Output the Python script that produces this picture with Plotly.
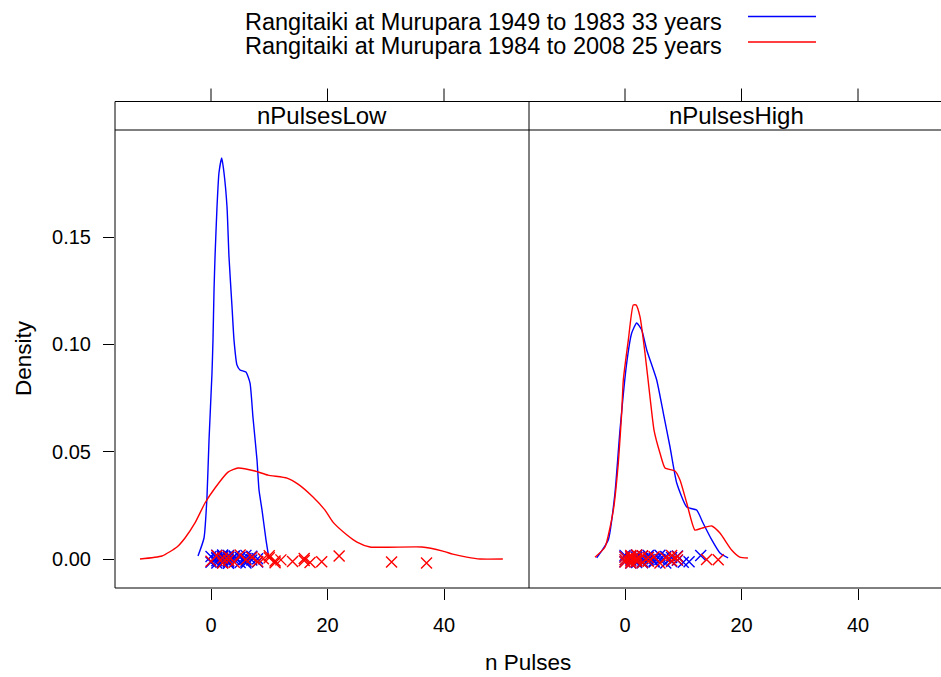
import plotly.graph_objects as go

W, H = 941, 677

# ---------------- data ----------------
panels = ["nPulsesLow", "nPulsesHigh"]
series_names = ["Rangitaiki at Murupara 1949 to 1983 33 years",
                "Rangitaiki at Murupara 1984 to 2008 25 years"]
series_colors = ["#0000FF", "#FF0000"]

# density curves (x = n pulses, y = density)
low_early_x = [-2.23, -1.2, -0.69, -0.34, 0.17, 0.34, 0.52, 0.69, 1.03, 1.37, 1.84, 2.23, 2.75, 3.09,
               3.61, 3.95, 4.46, 4.98, 6.0, 6.7, 7.2, 7.9, 8.24, 8.76, 9.44, 9.95]
low_early_y = [0.0014, 0.0098, 0.0289, 0.0555, 0.0867, 0.1020, 0.1253, 0.1407, 0.164, 0.180, 0.1869,
               0.180, 0.164, 0.1407, 0.1174, 0.1020, 0.0904, 0.0881, 0.0871, 0.082, 0.0662, 0.0461,
               0.0322, 0.0228, 0.0089, 0.0002]
low_late_x = [-12.19, -8.41, -5.84, -4.46, -2.75, -1.03, 0.69, 2.92, 4.64, 7.55, 9.79, 13.05, 14.94,
              17.51, 19.57, 20.94, 23.35, 25.06, 27.3, 36.2, 39.8, 41.5, 43.9, 46.2, 50.1]
low_late_y = [0.0, 0.0014, 0.0056, 0.0098, 0.0168, 0.0261, 0.0331, 0.0405, 0.0424, 0.0410, 0.0391,
              0.0377, 0.0349, 0.0289, 0.0228, 0.0172, 0.0112, 0.0079, 0.0056, 0.0056, 0.0037,
              0.0023, 0.0009, 0.0, 0.0]
high_early_x = [-4.86, -2.87, -1.72, -0.86, 0.29, 1.15, 2.0, 2.87, 3.73, 5.44, 6.58, 7.73, 8.88,
                10.6, 12.3, 13.4, 14.9, 16.3, 17.7]
high_early_y = [0.0005, 0.0089, 0.0308, 0.0601, 0.0913, 0.1053, 0.110, 0.1067, 0.0974, 0.0834,
                0.068, 0.0522, 0.0354, 0.0242, 0.0228, 0.0168, 0.0089, 0.0028, 0.0005]
high_late_x = [-5.15, -3.43, -2.0, -1.15, -0.57, -0.29, 0.57, 1.42, 1.89, 2.58, 3.43, 4.29, 4.98,
               6.0, 6.87, 8.58, 9.44, 10.6, 12.0, 13.2, 14.9, 16.3, 18.3, 19.7, 21.1]
high_late_y = [0.0008, 0.0056, 0.0228, 0.0447, 0.068, 0.0834, 0.102, 0.1184, 0.1184, 0.1128, 0.096,
               0.0755, 0.0601, 0.0494, 0.0424, 0.041, 0.0368, 0.0261, 0.0135, 0.0144, 0.0154,
               0.0121, 0.0042, 0.0009, 0.0005]

# raw observations (rug of crosses) with their small vertical jitter
low_early_pts = [0, 0, 1, 1, 1, 1, 1, 2, 2, 2, 2, 2, 2, 2, 3, 3, 3, 3, 3, 4, 4, 4, 5, 5, 6, 6, 6, 6,
                 7, 7, 7, 8, 8]
low_early_jit = [0.0012, -0.0015, 0.0004, -0.0008, 0.0018, -0.0019, 0.0007, 0.0015, -0.0011, 0.0002,
                 -0.0017, 0.0010, -0.0004, 0.0019, -0.0013, 0.0006, 0.0016, -0.0007, -0.0020, 0.0011,
                 -0.0002, 0.0014, -0.0016, 0.0008, 0.0017, -0.0010, 0.0003, -0.0018, 0.0013,
                 -0.0005, 0.0009, -0.0014, 0.0001]
low_late_pts = [0, 1, 2, 2, 3, 3, 4, 5, 6, 7, 8, 9, 10, 10, 11, 11, 12, 14, 16, 16, 17, 19, 22, 31, 37]
low_late_jit = [-0.0010, 0.0016, -0.0018, 0.0005, 0.0012, -0.0006, -0.0015, 0.0019, -0.0003, 0.0008,
                -0.0012, 0.0001, 0.0015, 0.0006, -0.0009, -0.0017, -0.0004, -0.0012, 0.0002,
                -0.0007, -0.0016, -0.0013, 0.0014, -0.0014, -0.0019]
high_early_pts = [0, 0, 0, 1, 1, 1, 1, 2, 2, 2, 2, 2, 3, 3, 3, 3, 4, 4, 4, 5, 5, 5, 6, 6, 7, 7, 8, 8,
                  9, 9, 10, 11, 13]
high_early_jit = [0.0009, -0.0013, 0.0017, -0.0004, 0.0011, -0.0019, 0.0003, 0.0015, -0.0008,
                  -0.0016, 0.0006, 0.0019, -0.0011, 0.0001, 0.0013, -0.0017, 0.0008, -0.0005,
                  0.0016, -0.0014, 0.0004, -0.0009, 0.0018, -0.0002, 0.0012, -0.0018, 0.0007,
                  -0.0012, 0.0014, -0.0006, -0.0015, -0.0013, 0.0016]
high_late_pts = [0, 0, 0, 1, 1, 1, 1, 1, 2, 2, 2, 2, 3, 3, 4, 4, 5, 6, 7, 8, 8, 9, 9, 14, 16]
high_late_jit = [-0.0014, 0.0010, -0.0003, 0.0017, -0.0009, 0.0004, -0.0018, 0.0013, -0.0006,
                 0.0019, -0.0012, 0.0002, 0.0015, -0.0016, 0.0007, -0.0010, 0.0011, -0.0019,
                 0.0005, 0.0016, -0.0008, 0.0012, -0.0004, -0.0002, -0.0003]

x_ticks = [0, 20, 40]
y_ticks = [0.00, 0.05, 0.10, 0.15]
y_tick_text = ["0.00", "0.05", "0.10", "0.15"]
x_title = "n Pulses"
y_title = "Density"

# ---------------- layout geometry (pixels) ----------------
px_per_unit = 5.825
x0_left = 211.0
panel_l, panel_mid, panel_r = 115, 529, 941
panel_top, panel_bot = 130, 588
strip_top = 101.5
xr_left = [(panel_l - x0_left) / px_per_unit, (panel_mid - x0_left) / px_per_unit]
xr_right = [xr_left[0], xr_left[0] + (panel_r - panel_mid) / px_per_unit]
y_range = [-0.0135, 0.1999]


def px(x):
    return x / W


def py(y):
    return 1 - y / H


FONT = "Liberation Sans, Arial, sans-serif"
fig = go.Figure()

curves = [
    (0, 0, low_early_x, low_early_y, low_early_pts, low_early_jit),
    (0, 1, low_late_x, low_late_y, low_late_pts, low_late_jit),
    (1, 0, high_early_x, high_early_y, high_early_pts, high_early_jit),
    (1, 1, high_late_x, high_late_y, high_late_pts, high_late_jit),
]
for p, s, cx, cy, pts, jit in curves:
    xa = "x" if p == 0 else "x2"
    ya = "y" if p == 0 else "y2"
    fig.add_trace(go.Scatter(x=cx, y=cy, mode="lines", xaxis=xa, yaxis=ya,
                             line=dict(color=series_colors[s], width=1.4, shape="spline",
                                       smoothing=0.5),
                             showlegend=False, hoverinfo="skip"))
    fig.add_trace(go.Scatter(x=pts, y=jit, mode="markers", xaxis=xa, yaxis=ya,
                             marker=dict(symbol="x-thin-open", size=11, color=series_colors[s],
                                         line=dict(color=series_colors[s], width=1.4)),
                             showlegend=False, hoverinfo="skip"))

axis_common = dict(showgrid=False, zeroline=False, showline=False, ticks="outside",
                   ticklen=11, tickwidth=1, tickcolor="black", ticklabelstandoff=8,
                   tickfont=dict(family=FONT, size=20, color="black"))

fig.update_layout(
    width=W, height=H, autosize=False,
    margin=dict(l=0, r=0, t=0, b=0),
    paper_bgcolor="white", plot_bgcolor="white",
    xaxis=dict(domain=[px(panel_l), px(panel_mid)], range=xr_left, anchor="y",
               tickvals=x_ticks, ticktext=[str(v) for v in x_ticks], **axis_common),
    xaxis2=dict(domain=[px(panel_mid), px(panel_r)], range=xr_right, anchor="y2",
                tickvals=x_ticks, ticktext=[str(v) for v in x_ticks], **axis_common),
    yaxis=dict(domain=[py(panel_bot), py(panel_top)], range=y_range, anchor="x",
               tickvals=y_ticks, ticktext=y_tick_text, **axis_common),
    yaxis2=dict(domain=[py(panel_bot), py(panel_top)], range=y_range, anchor="x2",
                showticklabels=False, ticks="", showgrid=False, zeroline=False),
)

shapes = []
line_k = dict(color="black", width=1)
# panel boxes (right edge of right panel falls outside the picture)
shapes.append(dict(type="line", xref="paper", yref="paper", x0=px(panel_l), x1=px(panel_r),
                   y0=py(panel_bot), y1=py(panel_bot), line=line_k))
shapes.append(dict(type="line", xref="paper", yref="paper", x0=px(panel_l), x1=px(panel_r),
                   y0=py(panel_top), y1=py(panel_top), line=line_k))
shapes.append(dict(type="line", xref="paper", yref="paper", x0=px(panel_l), x1=px(panel_r),
                   y0=py(strip_top), y1=py(strip_top), line=line_k))
shapes.append(dict(type="line", xref="paper", yref="paper", x0=px(panel_l), x1=px(panel_l),
                   y0=py(panel_bot), y1=py(strip_top), line=line_k))
shapes.append(dict(type="line", xref="paper", yref="paper", x0=px(panel_mid), x1=px(panel_mid),
                   y0=py(panel_bot), y1=py(strip_top), line=line_k))
# top ticks above the strips
for xa in ["x", "x2"]:
    for v in x_ticks:
        shapes.append(dict(type="line", xref=xa, yref="paper", x0=v, x1=v,
                           y0=py(strip_top), y1=py(strip_top - 13), line=line_k))
# legend keys
leg_y = [16.5, 42]
for i, c in enumerate(series_colors):
    shapes.append(dict(type="line", xref="paper", yref="paper", x0=px(748), x1=px(816),
                       y0=py(leg_y[i]), y1=py(leg_y[i]), line=dict(color=c, width=1.4)))
fig.update_layout(shapes=shapes)

ann = []
for i, name in enumerate(series_names):
    ann.append(dict(text=name, xref="paper", yref="paper", x=px(243), y=py([21.5, 46][i]),
                    xanchor="left", yanchor="middle", showarrow=False,
                    font=dict(family=FONT, size=23.5, color="black")))
for i, name in enumerate(panels):
    cx = (panel_l + panel_mid) / 2 if i == 0 else (panel_mid + panel_r + 2) / 2
    ann.append(dict(text=name, xref="paper", yref="paper", x=px(cx), y=py((strip_top + panel_top) / 2),
                    xanchor="center", yanchor="middle", showarrow=False,
                    font=dict(family=FONT, size=24, color="black")))
ann.append(dict(text=x_title, xref="paper", yref="paper", x=px(528), y=py(662),
                xanchor="center", yanchor="middle", showarrow=False,
                font=dict(family=FONT, size=22.5, color="black")))
ann.append(dict(text=y_title, xref="paper", yref="paper", x=px(23), y=py(358),
                xanchor="center", yanchor="middle", showarrow=False, textangle=-90,
                font=dict(family=FONT, size=22.5, color="black")))
fig.update_layout(annotations=ann)

fig.write_html("out.html")
